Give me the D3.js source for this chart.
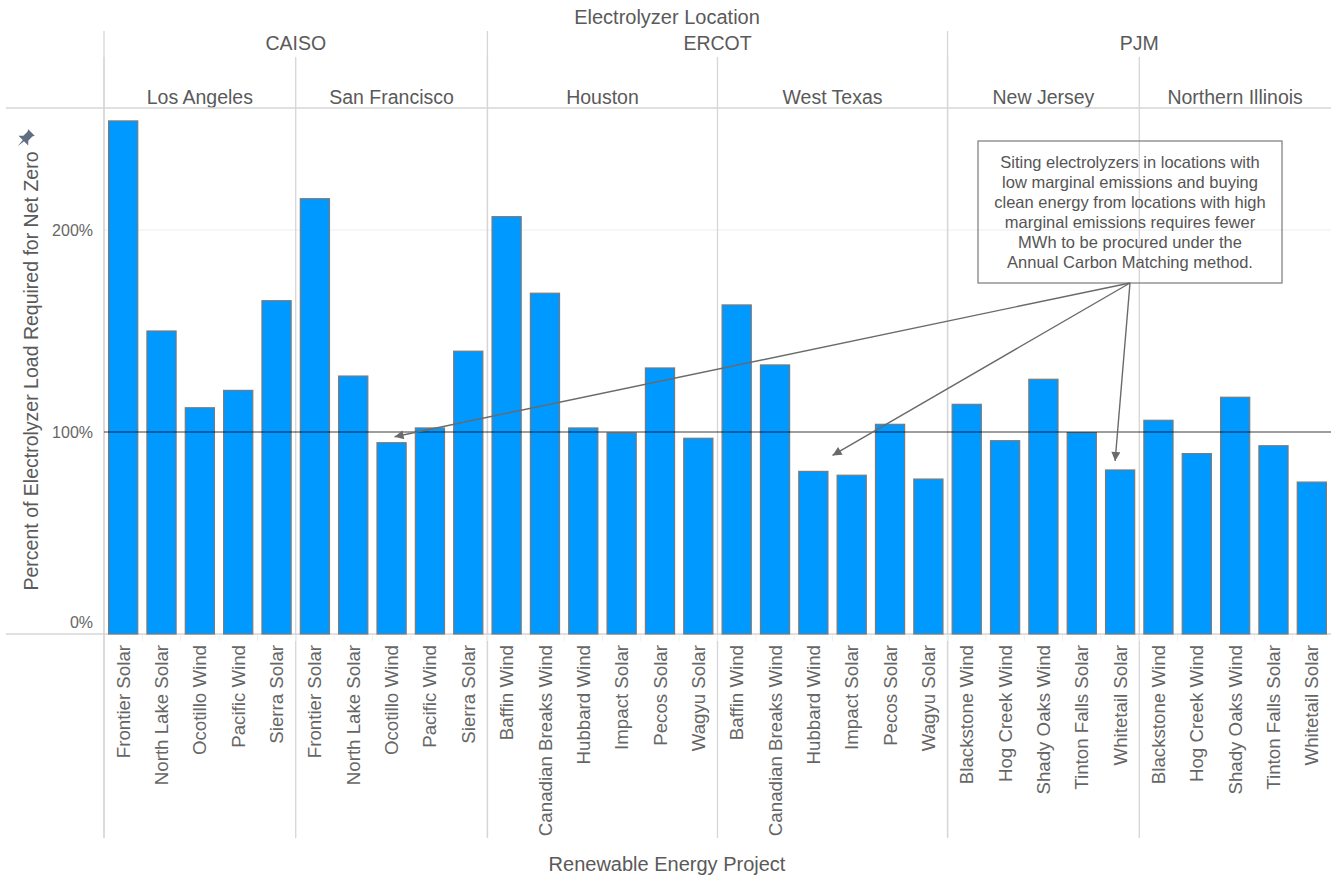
<!DOCTYPE html>
<html>
<head>
<meta charset="utf-8">
<script src="https://cdn.jsdelivr.net/npm/d3@7"></script>
<style>
  body { margin: 0; background: #fff; }
  svg { display: block; font-family: "Liberation Sans", Arial, sans-serif; }
</style>
</head>
<body>
<svg id="chart" width="1331" height="878"></svg>
<script>
// Chart data
const regions = ["CAISO", "ERCOT", "PJM"];
const cities = ["Los Angeles", "San Francisco", "Houston", "West Texas", "New Jersey", "Northern Illinois"];
const cityRegion = ["CAISO", "CAISO", "ERCOT", "ERCOT", "PJM", "PJM"];

const caisoProjects = ["Frontier Solar", "North Lake Solar", "Ocotillo Wind", "Pacific Wind", "Sierra Solar"];
const ercotProjects = ["Baffin Wind", "Canadian Breaks Wind", "Hubbard Wind", "Impact Solar", "Pecos Solar", "Wagyu Solar"];
const pjmProjects = ["Blackstone Wind", "Hog Creek Wind", "Shady Oaks Wind", "Tinton Falls Solar", "Whitetail Solar"];
const cityProjects = [caisoProjects, caisoProjects, ercotProjects, ercotProjects, pjmProjects, pjmProjects];

// percent of electrolyzer load required for net zero, one row per city
const percentRequired = [
    [254, 150, 112, 120.6, 165],
    [215.5, 127.7, 94.7, 102, 140],
    [206.6, 168.7, 102, 99.5, 131.7, 96.9],
    [162.9, 133.2, 80.5, 78.6, 103.8, 76.7],
    [113.7, 95.7, 126.1, 99.7, 81.2],
    [105.8, 89.3, 117.2, 93.2, 75.2]
];
const yTicks = [0, 100, 200];

const noteLines = [
    "Siting electrolyzers in locations with",
    "low marginal emissions and buying",
    "clean energy from locations with high",
    "marginal emissions requires fewer",
    "MWh to be procured under the",
    "Annual Carbon Matching method."
];

// Flatten into one row per bar
const bars = [];
cities.forEach((city, ci) => {
    cityProjects[ci].forEach((p, pi) => {
        bars.push({ key: city + "|" + p, city: city, region: cityRegion[ci], project: p, value: percentRequired[ci][pi] });
    });
});

const svg = d3.select("#chart");
const plotLeft = 104, plotRight = 1331, plotTop = 108, plotBottom = 634;
const lineColor = "#d6d6d6";
const textColor = "#5a5a5a";
const headerSize = "19.5px";

const x = d3.scaleBand()
    .domain(bars.map(d => d.key))
    .range([plotLeft, plotRight])
    .paddingInner(0.24)
    .paddingOuter(0.12);
const step = x.step();

const y = d3.scaleLinear()
    .domain([0, 100])
    .range([plotBottom, 432]);

// group extents (first / last slot index)
const extent = (field, name) => {
    const idx = bars.map((d, i) => d[field] === name ? i : -1).filter(i => i >= 0);
    return [plotLeft + idx[0] * step, plotLeft + (idx[idx.length - 1] + 1) * step];
};

// Gridline at 200%
svg.append("line")
    .attr("x1", plotLeft).attr("x2", plotRight)
    .attr("y1", y(200)).attr("y2", y(200))
    .attr("stroke", "#ededed")
    .attr("stroke-width", 1);

// Header title
svg.append("text")
    .attr("x", 667).attr("y", 24)
    .attr("text-anchor", "middle")
    .attr("fill", textColor)
    .style("font-size", "20px")
    .text("Electrolyzer Location");

// Region dividers + labels
regions.forEach(r => {
    const [x0, x1] = extent("region", r);
    svg.append("line")
        .attr("x1", x0).attr("x2", x0)
        .attr("y1", 31).attr("y2", 838)
        .attr("stroke", lineColor).attr("stroke-width", 1.3);
    svg.append("text")
        .attr("x", (x0 + x1) / 2).attr("y", 50)
        .attr("text-anchor", "middle")
        .attr("fill", textColor)
        .style("font-size", headerSize)
        .text(r);
});

// City dividers + labels
cities.forEach(c => {
    const [x0, x1] = extent("city", c);
    svg.append("line")
        .attr("x1", x0).attr("x2", x0)
        .attr("y1", 57).attr("y2", 838)
        .attr("stroke", lineColor).attr("stroke-width", 1.3);
    svg.append("text")
        .attr("x", (x0 + x1) / 2).attr("y", 104)
        .attr("text-anchor", "middle")
        .attr("fill", textColor)
        .style("font-size", headerSize)
        .text(c);
});

// Horizontal frame lines
[plotTop, plotBottom].forEach(yy => {
    svg.append("line")
        .attr("x1", 6).attr("x2", plotRight)
        .attr("y1", yy).attr("y2", yy)
        .attr("stroke", lineColor).attr("stroke-width", 1.5);
});

// faint separators between project labels
svg.append("g")
    .selectAll("line")
    .data(bars.slice(1))
    .enter()
    .append("line")
    .attr("x1", d => x(d.key) - step * 0.12)
    .attr("x2", d => x(d.key) - step * 0.12)
    .attr("y1", plotBottom + 1).attr("y2", plotBottom + 7)
    .attr("stroke", "#f0f0f0");

// Bars
svg.append("g")
    .selectAll(".bar")
    .data(bars)
    .enter()
    .append("rect")
    .attr("class", "bar")
    .attr("x", d => x(d.key))
    .attr("y", d => y(d.value))
    .attr("width", x.bandwidth())
    .attr("height", d => y(0) - y(d.value))
    .attr("fill", "#0099ff")
    .attr("stroke", "#7a7a7a")
    .attr("stroke-width", 1.2);

// 100% reference line
svg.append("line")
    .attr("x1", plotLeft).attr("x2", plotRight)
    .attr("y1", y(100)).attr("y2", y(100))
    .attr("stroke", "rgba(0,0,0,0.38)")
    .attr("stroke-width", 2);

// Y axis tick labels (0% nudged up inside the pane)
svg.append("g")
    .selectAll("text")
    .data(yTicks)
    .enter()
    .append("text")
    .attr("x", 93)
    .attr("y", d => d === 0 ? y(d) - 12 : y(d))
    .attr("dy", "0.35em")
    .attr("text-anchor", "end")
    .attr("fill", "#666")
    .style("font-size", "16px")
    .text(d => d + "%");

// Y axis title
svg.append("text")
    .attr("transform", `translate(31,${(plotTop + plotBottom) / 2}) rotate(-90)`)
    .attr("text-anchor", "middle")
    .attr("dy", "0.35em")
    .attr("fill", textColor)
    .style("font-size", headerSize)
    .text("Percent of Electrolyzer Load Required for Net Zero");

// Pin icon
svg.append("path")
    .attr("transform", "translate(25,139) rotate(45) scale(1.15)")
    .attr("d", "M-4,-8 L4,-8 L3,-6 L3,-1 L6,2 L-6,2 L-3,-1 L-3,-6 Z M-0.8,2 L0.8,2 L0,9 Z")
    .attr("fill", "#5f6e82");

// Project labels
svg.append("g")
    .selectAll("text")
    .data(bars)
    .enter()
    .append("text")
    .attr("transform", d => `translate(${x(d.key) + x.bandwidth() / 2},645) rotate(-90)`)
    .attr("text-anchor", "end")
    .attr("dy", "0.35em")
    .attr("fill", "#666")
    .style("font-size", "18.7px")
    .text(d => d.project);

// X axis title
svg.append("text")
    .attr("x", 667).attr("y", 871)
    .attr("text-anchor", "middle")
    .attr("fill", textColor)
    .style("font-size", "20px")
    .text("Renewable Energy Project");

// Annotation box
const noteX = 1130, noteTop = 141, noteH = 142, noteW = 304;
svg.append("rect")
    .attr("x", noteX - noteW / 2).attr("y", noteTop)
    .attr("width", noteW).attr("height", noteH)
    .attr("fill", "none")
    .attr("stroke", "#7a7a7a")
    .attr("stroke-width", 1.2);

svg.append("g")
    .selectAll("text")
    .data(noteLines)
    .enter()
    .append("text")
    .attr("x", noteX)
    .attr("y", (d, i) => noteTop + 21 + i * 20)
    .attr("dy", "0.35em")
    .attr("text-anchor", "middle")
    .attr("fill", "#555")
    .style("font-size", "16.5px")
    .text(d => d);

// Arrow marker
svg.append("defs").append("marker")
    .attr("id", "arrow")
    .attr("markerUnits", "userSpaceOnUse")
    .attr("viewBox", "0 0 10 10")
    .attr("refX", 10).attr("refY", 5)
    .attr("markerWidth", 11).attr("markerHeight", 9)
    .attr("orient", "auto")
    .append("path")
    .attr("d", "M0,0 L10,5 L0,10 Z")
    .attr("fill", "#6a6a6a");

// Arrow targets taken from the bars they point at
const barOf = (city, project) => bars.find(d => d.city === city && d.project === project);
const sfOcotillo = barOf("San Francisco", "Ocotillo Wind");
const wtHubbard = barOf("West Texas", "Hubbard Wind");
const njWhitetail = barOf("New Jersey", "Whitetail Solar");
const targets = [
    [x(sfOcotillo.key) + x.bandwidth() / 2 + 3, y(sfOcotillo.value) - 6],
    [x(wtHubbard.key) + x.bandwidth() + step * 0.12, y(wtHubbard.value) - 16],
    [x(njWhitetail.key) + x.bandwidth() / 2 - 5, y(njWhitetail.value) - 9]
];

svg.append("g")
    .selectAll("line")
    .data(targets)
    .enter()
    .append("line")
    .attr("x1", noteX).attr("y1", noteTop + noteH)
    .attr("x2", d => d[0]).attr("y2", d => d[1])
    .attr("stroke", "#6a6a6a")
    .attr("stroke-width", 1.4)
    .attr("marker-end", "url(#arrow)");
</script>
</body>
</html>
